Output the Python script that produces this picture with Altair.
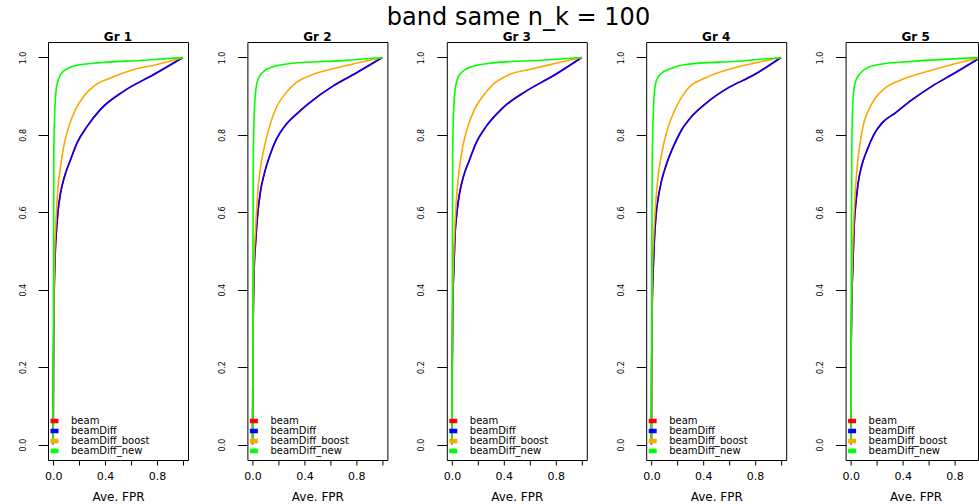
import altair as alt
import pandas as pd

TITLE = "band same n_k = 100"
GROUPS = ["Gr 1", "Gr 2", "Gr 3", "Gr 4", "Gr 5"]
METHODS = ["beam", "beamDiff", "beamDiff_boost", "beamDiff_new"]
COLORS = ["#FF0000", "#0000FF", "#FFA500", "#00FF00"]
X_TICKS = [0.0, 0.2, 0.4, 0.6, 0.8, 1.0]
Y_TICKS = [0.0, 0.2, 0.4, 0.6, 0.8, 1.0]
X_TITLE = "Ave. FPR"

# (Ave. FPR, Ave. TPR) points
G1_BEAM = [(0, 0), (0.002, 0.2), (0.006, 0.35), (0.015, 0.487), (0.026, 0.556), (0.036, 0.599), (0.057, 0.650), (0.088, 0.693), (0.134, 0.736), (0.185, 0.780), (0.262, 0.822), (0.365, 0.866), (0.545, 0.913), (0.776, 0.956), (1, 1)]
G1_BEAMDIFF = [(0, 0), (0.002, 0.2), (0.006, 0.35), (0.015, 0.487), (0.026, 0.556), (0.036, 0.599), (0.057, 0.650), (0.088, 0.693), (0.134, 0.736), (0.185, 0.780), (0.262, 0.822), (0.365, 0.866), (0.545, 0.913), (0.776, 0.956), (1, 1)]
G1_BOOST = [(0, 0), (0.002, 0.2), (0.005, 0.35), (0.011, 0.487), (0.021, 0.573), (0.036, 0.659), (0.057, 0.719), (0.082, 0.771), (0.121, 0.822), (0.172, 0.866), (0.237, 0.900), (0.314, 0.926), (0.442, 0.947), (0.622, 0.969), (0.802, 0.982), (1, 1)]
G1_NEW = [(0, 0), (0.002, 0.2), (0.003, 0.43), (0.005, 0.762), (0.013, 0.866), (0.023, 0.917), (0.044, 0.947), (0.082, 0.965), (0.160, 0.978), (0.314, 0.985), (0.699, 0.993), (1, 1)]

G2_BEAM = [(0, 0), (0.002, 0.2), (0.006, 0.35), (0.012, 0.452), (0.023, 0.521), (0.038, 0.590), (0.059, 0.650), (0.092, 0.702), (0.131, 0.745), (0.182, 0.788), (0.247, 0.822), (0.336, 0.853), (0.439, 0.883), (0.619, 0.926), (0.799, 0.960), (1, 1)]
G2_BEAMDIFF = [(0, 0), (0.002, 0.2), (0.006, 0.35), (0.012, 0.452), (0.023, 0.521), (0.038, 0.590), (0.059, 0.650), (0.092, 0.702), (0.131, 0.745), (0.182, 0.788), (0.247, 0.822), (0.336, 0.853), (0.439, 0.883), (0.619, 0.926), (0.799, 0.960), (1, 1)]
G2_BOOST = [(0, 0), (0.002, 0.2), (0.005, 0.35), (0.010, 0.469), (0.023, 0.556), (0.038, 0.642), (0.059, 0.711), (0.092, 0.771), (0.131, 0.822), (0.182, 0.870), (0.247, 0.904), (0.336, 0.935), (0.465, 0.956), (0.645, 0.973), (0.799, 0.985), (1, 1)]
G2_NEW = [(0, 0), (0.002, 0.2), (0.003, 0.45), (0.005, 0.719), (0.012, 0.848), (0.023, 0.909), (0.041, 0.943), (0.079, 0.962), (0.157, 0.976), (0.311, 0.985), (0.696, 0.992), (1, 1)]

G3_BEAM = [(0, 0), (0.002, 0.2), (0.006, 0.35), (0.015, 0.461), (0.022, 0.530), (0.038, 0.599), (0.059, 0.650), (0.089, 0.693), (0.136, 0.736), (0.187, 0.780), (0.264, 0.822), (0.392, 0.870), (0.572, 0.913), (0.778, 0.952), (1, 1)]
G3_BEAMDIFF = [(0, 0), (0.002, 0.2), (0.006, 0.35), (0.015, 0.461), (0.022, 0.530), (0.038, 0.599), (0.059, 0.650), (0.089, 0.693), (0.136, 0.736), (0.187, 0.780), (0.264, 0.822), (0.392, 0.870), (0.572, 0.913), (0.778, 0.952), (1, 1)]
G3_BOOST = [(0, 0), (0.002, 0.2), (0.005, 0.35), (0.012, 0.478), (0.022, 0.564), (0.038, 0.650), (0.059, 0.719), (0.084, 0.771), (0.123, 0.822), (0.174, 0.866), (0.238, 0.900), (0.315, 0.930), (0.444, 0.956), (0.598, 0.969), (0.803, 0.985), (1, 1)]
G3_NEW = [(0, 0), (0.002, 0.2), (0.003, 0.45), (0.005, 0.740), (0.012, 0.855), (0.023, 0.912), (0.042, 0.945), (0.080, 0.963), (0.157, 0.977), (0.311, 0.986), (0.696, 0.993), (1, 1)]

G4_BEAM = [(0, 0), (0.002, 0.2), (0.006, 0.35), (0.014, 0.452), (0.022, 0.521), (0.035, 0.590), (0.055, 0.642), (0.081, 0.685), (0.120, 0.728), (0.171, 0.771), (0.235, 0.814), (0.312, 0.848), (0.441, 0.887), (0.595, 0.922), (0.775, 0.952), (1, 1)]
G4_BEAMDIFF = [(0, 0), (0.002, 0.2), (0.006, 0.35), (0.014, 0.452), (0.022, 0.521), (0.035, 0.590), (0.055, 0.642), (0.081, 0.685), (0.120, 0.728), (0.171, 0.771), (0.235, 0.814), (0.312, 0.848), (0.441, 0.887), (0.595, 0.922), (0.775, 0.952), (1, 1)]
G4_BOOST = [(0, 0), (0.002, 0.2), (0.004, 0.35), (0.009, 0.461), (0.019, 0.547), (0.035, 0.633), (0.055, 0.702), (0.081, 0.754), (0.120, 0.810), (0.171, 0.857), (0.222, 0.891), (0.287, 0.922), (0.415, 0.947), (0.595, 0.969), (0.800, 0.986), (1, 1)]
G4_NEW = [(0, 0), (0.002, 0.2), (0.003, 0.45), (0.006, 0.719), (0.014, 0.848), (0.023, 0.909), (0.042, 0.943), (0.081, 0.960), (0.133, 0.969), (0.261, 0.982), (0.696, 0.991), (1, 1)]

G5_BEAM = [(0, 0), (0.002, 0.2), (0.007, 0.35), (0.016, 0.461), (0.026, 0.564), (0.042, 0.633), (0.057, 0.676), (0.083, 0.719), (0.127, 0.762), (0.178, 0.801), (0.242, 0.831), (0.345, 0.857), (0.474, 0.891), (0.628, 0.926), (0.782, 0.956), (1, 1)]
G5_BEAMDIFF = [(0, 0), (0.002, 0.2), (0.007, 0.35), (0.016, 0.461), (0.026, 0.564), (0.042, 0.633), (0.057, 0.676), (0.083, 0.719), (0.127, 0.762), (0.178, 0.801), (0.242, 0.831), (0.345, 0.857), (0.474, 0.891), (0.628, 0.926), (0.782, 0.956), (1, 1)]
G5_BOOST = [(0, 0), (0.002, 0.2), (0.006, 0.35), (0.014, 0.495), (0.024, 0.590), (0.037, 0.667), (0.055, 0.736), (0.076, 0.788), (0.101, 0.831), (0.140, 0.866), (0.191, 0.896), (0.268, 0.922), (0.396, 0.943), (0.602, 0.965), (0.782, 0.982), (1, 1)]
G5_NEW = [(0, 0), (0.002, 0.2), (0.004, 0.45), (0.008, 0.762), (0.014, 0.866), (0.024, 0.917), (0.042, 0.943), (0.076, 0.960), (0.127, 0.973), (0.217, 0.982), (0.474, 0.990), (1, 1)]

CURVES = {
    "Gr 1": [G1_BEAM, G1_BEAMDIFF, G1_BOOST, G1_NEW],
    "Gr 2": [G2_BEAM, G2_BEAMDIFF, G2_BOOST, G2_NEW],
    "Gr 3": [G3_BEAM, G3_BEAMDIFF, G3_BOOST, G3_NEW],
    "Gr 4": [G4_BEAM, G4_BEAMDIFF, G4_BOOST, G4_NEW],
    "Gr 5": [G5_BEAM, G5_BEAMDIFF, G5_BOOST, G5_NEW],
}

rows = []
for g in GROUPS:
    for m, pts in zip(METHODS, CURVES[g]):
        for i, (fx, ty) in enumerate(pts):
            rows.append({"group": g, "method": m, "fpr": fx, "tpr": ty, "idx": i})
df = pd.DataFrame(rows)

FONT = "DejaVu Sans"
PANEL_W = 140.0
PX_PER_UNIT = PANEL_W / 1.08
SPACING = 59.4
# the last panel runs past the right edge of the page in the reference,
# so it is cut at the page edge: same scale, shorter visible domain
LAST_W = 979 - (49 + 4 * (PANEL_W + SPACING))


def panel(g, last=False):
    w = LAST_W if last else PANEL_W
    x_max = -0.04 + w / PX_PER_UNIT
    ticks = [t for t in X_TICKS if t <= x_max]
    return (
        alt.Chart(df)
        .transform_filter(alt.datum.group == g)
        .mark_line(strokeWidth=1.6, interpolate="monotone", clip=True)
        .encode(
            x=alt.X(
                "fpr:Q",
                scale=alt.Scale(domain=[-0.04, x_max], nice=False, zero=False),
                axis=alt.Axis(
                    values=ticks, format=".1f",
                    labelExpr="round(datum.value*10) % 4 == 0 ? datum.label : ''",
                    title=X_TITLE, tickSize=5, labelPadding=5, labelFontSize=11,
                    labelFont=FONT, titleFont=FONT, titleFontSize=12,
                    titleFontWeight="normal", titlePadding=10, domain=False,
                    grid=False, tickColor="black", labelColor="black",
                    titleColor="black", labelFlush=False, labelOverlap=False,
                    titleX=0.5 * PANEL_W, titleAlign="center",
                ),
            ),
            y=alt.Y(
                "tpr:Q",
                scale=alt.Scale(domain=[-0.04, 1.04], nice=False, zero=False),
                axis=alt.Axis(
                    values=Y_TICKS, format=".1f", title=None, labelAngle=270,
                    labelAlign="center", labelBaseline="alphabetic",
                    tickSize=10, labelPadding=13, labelFontSize=8, labelFont=FONT,
                    domain=False, grid=False, tickColor="black",
                    labelColor="black", labelFlush=False, labelOverlap=False,
                ),
            ),
            color=alt.Color(
                "method:N",
                scale=alt.Scale(domain=METHODS, range=COLORS),
                legend=alt.Legend(
                    orient="none", legendX=0, legendY=374, title=None,
                    symbolType="stroke", symbolSize=64, symbolStrokeWidth=4.5,
                    labelFontSize=10, labelFont=FONT, labelColor="black",
                    labelOffset=10, rowPadding=0, clipHeight=10, padding=0,
                ),
            ),
            order="idx:Q",
        )
        .properties(
            width=w, height=418,
            title=alt.TitleParams(g, fontSize=12, fontWeight="bold", font=FONT,
                                  offset=-2, anchor="middle",
                                  dx=(PANEL_W - w) / 2.0,
                                  color="black"),
        )
    )

chart = (
    alt.hconcat(*[panel(g, last=(i == len(GROUPS) - 1)) for i, g in enumerate(GROUPS)],
                spacing=SPACING, bounds="flush")
    .resolve_scale(color="independent")
    .resolve_legend(color="independent")
    .properties(
        title=alt.TitleParams(TITLE, fontSize=24, fontWeight="normal", font=FONT,
                              anchor="middle", color="black", offset=1, dx=20),
        padding={"left": 18, "top": 5, "right": 0, "bottom": 0},
    )
    .configure_view(stroke="black", strokeWidth=1)
)

chart.save("out.html", embed_options={"renderer": "svg", "actions": False})
